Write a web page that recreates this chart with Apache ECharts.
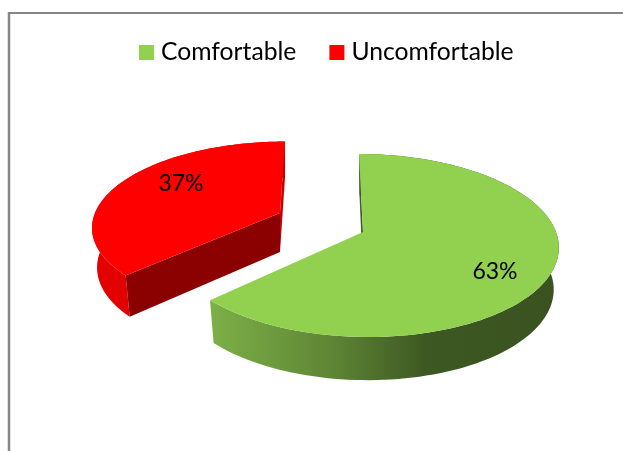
<!DOCTYPE html>
<html>
<head>
<meta charset="utf-8">
<style>html,body{margin:0;padding:0;background:#fff}#c{width:623px;height:451px}</style>
<script src="https://cdn.jsdelivr.net/npm/echarts@6/dist/echarts.min.js"></script>
</head>
<body>
<div id="c"></div>
<script>
const categories = ['Comfortable', 'Uncomfortable'];
const values = [63, 37];
const labels = ['63%', '37%'];
const colors = ['#92D050', '#FF0000'];

// slice rendering parameters: apex, radii, perspective, extrusion
const sliceLayout = [
  { cx: 363, cy: 232, r: 193, a: 89.5, skew: 4.6, rB: 188, aB: 90.5, skewB: 4, depth: 42, label: [495, 272] },
  { cx: 280, cy: 213, r: 185, a: 82, skew: -5.7, rB: 180, aB: 85, skewB: -5.7, depth: 39, label: [181, 184] }
];
const perspective = 0.1475;
const wallFill = [
  { type: 'linear', x: 0, y: 0, x2: 1, y2: 0, colorStops: [
    { offset: 0, color: '#7CB047' }, { offset: 0.35, color: '#5E8535' },
    { offset: 0.62, color: '#3D5822' }, { offset: 1, color: '#3A5220' }] },
  { type: 'linear', x: 0, y: 0, x2: 1, y2: 0, colorStops: [
    { offset: 0, color: '#E40000' }, { offset: 1, color: '#D60000' }] }
];
// face at the slice's starting angle and face at its ending angle (null: faces away)
const startFill = ['#3F5A22', '#8B0000'];
const endFill = [null, '#C40000'];

const total = values.reduce((s, v) => s + v, 0);

function project(L, theta, lower) {
  const u = Math.sin(theta), v = -Math.cos(theta), w = 1 - perspective * v;
  const r = lower ? L.rB : L.r, a = lower ? L.aB : L.a, s = lower ? L.skewB : L.skew;
  return [L.cx + (r * u + s * v) / w, L.cy + (lower ? L.depth : 0) + a * v / w];
}
function arc(L, t0, t1, lower) {
  const pts = [];
  const n = 120;
  for (let i = 0; i <= n; i++) pts.push(project(L, t0 + (t1 - t0) * i / n, lower));
  return pts;
}
function renderSlice(params, api) {
  const i = params.seriesIndex;
  const L = sliceLayout[i];
  const before = values.slice(0, i).reduce((s, v) => s + v, 0);
  const t0 = before / total * 2 * Math.PI;
  const t1 = (before + api.value(0)) / total * 2 * Math.PI;
  const top = arc(L, t0, t1, false), low = arc(L, t0, t1, true);
  const apex = [L.cx, L.cy], apexLow = [L.cx, L.cy + L.depth];
  const poly = (points, fill) => ({ type: 'polygon', shape: { points }, style: { fill, stroke: null } });
  const children = [poly(top.concat(low.slice().reverse()), wallFill[i])];
  if (endFill[i]) children.push(poly([top[top.length - 1], apex, apexLow, low[low.length - 1]], endFill[i]));
  if (startFill[i]) children.push(poly([top[0], apex, apexLow, low[0]], startFill[i]));
  children.push(poly(top.concat([apex]), colors[i]));
  children.push({ type: 'text', x: L.label[0], y: L.label[1], z2: 10,
    style: { text: labels[i], fill: '#000', font: '23px Lato', textAlign: 'center', textVerticalAlign: 'middle' } });
  return { type: 'group', children };
}

const chart = echarts.init(document.getElementById('c'), null, { renderer: 'canvas' });
chart.setOption({
  animation: false,
  color: colors,
  legend: {
    left: 134, top: 35, icon: 'rect', itemWidth: 15, itemHeight: 15, itemGap: 33,
    selectedMode: false,
    textStyle: { color: '#000', fontFamily: 'Lato', fontSize: 24.7, padding: [0, 0, 0, 2] },
    data: categories
  },
  graphic: [
    { type: 'line', shape: { x1: 9, y1: 12, x2: 9, y2: 451 }, style: { stroke: '#868686', lineWidth: 2.5 }, silent: true },
    { type: 'line', shape: { x1: 8, y1: 13, x2: 623, y2: 13 }, style: { stroke: '#868686', lineWidth: 2 }, silent: true }
  ],
  series: categories.map((name, i) => ({
    type: 'custom', name, coordinateSystem: 'none', silent: true,
    itemStyle: { color: colors[i] },
    renderItem: renderSlice,
    data: [[values[i]]]
  }))
});
</script>
</body>
</html>
